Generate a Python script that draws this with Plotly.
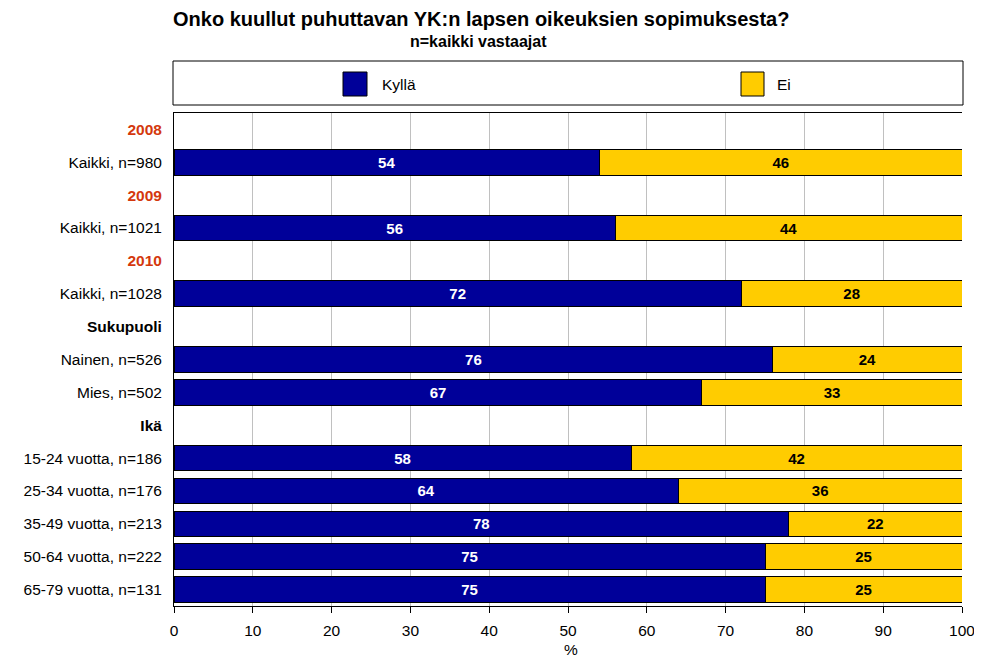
import plotly.graph_objects as go

categories = ["2008", "Kaikki, n=980", "2009", "Kaikki, n=1021", "2010", "Kaikki, n=1028",
              "Sukupuoli", "Nainen, n=526", "Mies, n=502", "Ikä",
              "15-24 vuotta, n=186", "25-34 vuotta, n=176", "35-49 vuotta, n=213",
              "50-64 vuotta, n=222", "65-79 vuotta, n=131"]
header_kind = ["year", None, "year", None, "year", None, "group", None, None, "group",
               None, None, None, None, None]
kylla = [None, 54, None, 56, None, 72, None, 76, 67, None, 58, 64, 78, 75, 75]
ei = [None, 46, None, 44, None, 28, None, 24, 33, None, 42, 36, 22, 25, 25]
series_names = ["Kyllä", "Ei"]
series_colors = ["#000099", "#FFCC00"]
x_ticks = [0, 10, 20, 30, 40, 50, 60, 70, 80, 90, 100]

FONT = "Liberation Sans, Arial, sans-serif"

ticktext = []
for c, k in zip(categories, header_kind):
    if k == "year":
        ticktext.append(f"<b><span style='color:#D4380D'>{c}</span></b>")
    elif k == "group":
        ticktext.append(f"<b>{c}</b>")
    else:
        ticktext.append(c)

# the page body adds an 8px margin; size the figure so it fits the 982x661 window
OFF = 8
FW, FH = 982 - OFF, 661 - OFF
# plot-area geometry in window pixels
L, R, T, B = 174, 962, 113, 606
W, H = R - L, B - T


def px(x):
    return (x - L) / W


def py(y):
    return (B - y) / H


fig = go.Figure()
for vals, name, col, tcol in [(kylla, series_names[0], series_colors[0], "white"),
                               (ei, series_names[1], series_colors[1], "black")]:
    fig.add_trace(go.Bar(
        y=categories, x=vals, orientation="h", name=name,
        marker=dict(color=col, line=dict(color="black", width=1)),
        text=[None if v is None else str(v) for v in vals], textposition="inside",
        insidetextanchor="middle", textangle=0,
        textfont=dict(color=tcol, size=15, family=FONT, weight="bold"),
        showlegend=False,
    ))

fig.update_layout(
    barmode="stack", bargap=0.22,
    width=FW, height=FH,
    margin=dict(l=L - OFF, r=982 - R, t=T - OFF, b=661 - B, autoexpand=False),
    paper_bgcolor="white", plot_bgcolor="white",
    font=dict(family=FONT, size=15, color="black"),
    showlegend=False,
)
fig.update_xaxes(
    range=[0, 100], tickvals=x_ticks, showgrid=True, gridcolor="#C0C0C0", gridwidth=1,
    showline=True, linecolor="black", linewidth=1, mirror=True,
    ticks="outside", ticklen=6, tickcolor="black", ticklabelstandoff=4,
    tickfont=dict(size=15.5), zeroline=False, automargin=False,
)
fig.update_yaxes(
    type="category", categoryorder="array", categoryarray=categories,
    autorange="reversed", tickvals=categories, ticktext=ticktext,
    showline=True, linecolor="black", linewidth=1, ticks="", ticklabelstandoff=8,
    tickfont=dict(size=15.5), showgrid=False, automargin=False,
)

# legend box
fig.add_shape(type="rect", xref="paper", yref="paper", x0=px(173), x1=px(963),
              y0=py(105), y1=py(61), line=dict(color="black", width=1),
              fillcolor="rgba(0,0,0,0)")
leg_x = [(343, 367, 380), (741, 764, 775)]
for (x0, x1, tx), name, col in zip(leg_x, series_names, series_colors):
    fig.add_shape(type="rect", xref="paper", yref="paper", x0=px(x0), x1=px(x1),
                  y0=py(96), y1=py(72), line=dict(color="black", width=1), fillcolor=col)
    fig.add_annotation(text=name, xref="paper", yref="paper", x=px(tx), y=py(84),
                       xanchor="left", yanchor="middle", showarrow=False,
                       font=dict(size=15.5, family=FONT))

fig.add_annotation(text="<b>Onko kuullut puhuttavan YK:n lapsen oikeuksien sopimuksesta?</b>",
                   xref="paper", yref="paper", x=px(481), y=py(19),
                   xanchor="center", yanchor="middle", showarrow=False,
                   font=dict(size=20, family=FONT))
fig.add_annotation(text="<b>n=kaikki vastaajat</b>",
                   xref="paper", yref="paper", x=px(478), y=py(42),
                   xanchor="center", yanchor="middle", showarrow=False,
                   font=dict(size=16, family=FONT))
fig.add_annotation(text="%", xref="paper", yref="paper", x=px(571), y=py(649),
                   xanchor="center", yanchor="middle", showarrow=False,
                   font=dict(size=15.5, family=FONT))

fig.write_html("out.html")
